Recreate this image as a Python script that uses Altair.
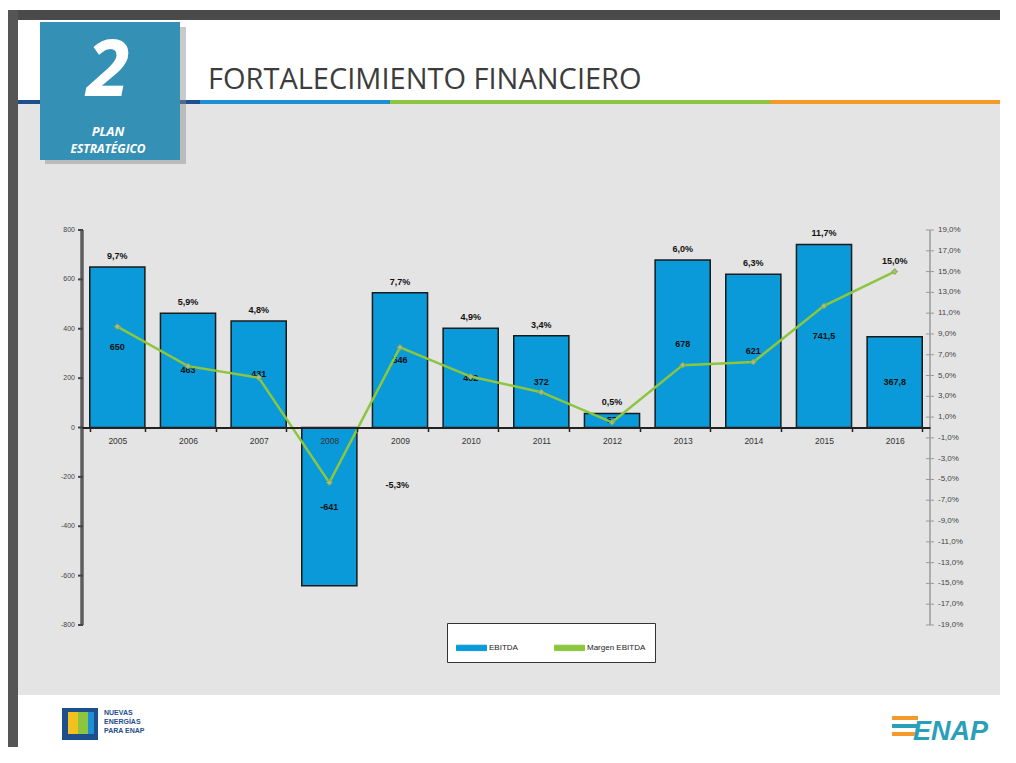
import altair as alt
import pandas as pd

# ---- data ----
years = ["2005", "2006", "2007", "2008", "2009", "2010", "2011", "2012", "2013", "2014", "2015", "2016"]
ebitda = [650, 463, 431, -641, 546, 402, 372, 57, 678, 621, 741.5, 367.8]
margen = [9.7, 5.9, 4.8, -5.3, 7.7, 4.9, 3.4, 0.5, 6.0, 6.3, 11.7, 15.0]
left_ticks = [-800, -600, -400, -200, 0, 200, 400, 600, 800]
right_ticks = [-19, -17, -15, -13, -11, -9, -7, -5, -3, -1, 1, 3, 5, 7, 9, 11, 13, 15, 17, 19]
series = ["EBITDA", "Margen EBITDA"]
title_text = "FORTALECIMIENTO FINANCIERO"

df = pd.DataFrame({"year": years, "e": ebitda, "m": margen})
lt = pd.DataFrame({"v": left_ticks})
rt = pd.DataFrame({"v": right_ticks})

W, H = 848, 395
BLUE = "#0a9ad9"
GREEN = "#8cc63e"
FONT = "Liberation Sans"
RATIO = "800 / 19"   # right-axis % range (±19) mapped onto left-axis range (±800)

xenc = alt.X("year:N", sort=years,
             scale=alt.Scale(paddingInner=0.22, paddingOuter=0.11),
             axis=alt.Axis(title=None, labelAngle=0, offset=-H / 2, domainColor="#222",
                           domainWidth=2, tickBand="extent", tickColor="#222", tickSize=4,
                           tickWidth=1.5, labelFontSize=8.5, labelColor="#333", labelPadding=5,
                           labelFont=FONT, zindex=2))
yscale = alt.Scale(domain=[-800, 800], nice=False, zero=False)
colscale = alt.Scale(domain=series, range=[BLUE, GREEN])

one = pd.DataFrame({"k": [0]})


def box(x1, x2, y1, y2, color, opacity=1.0):
    return alt.Chart(one).mark_rect(color=color, opacity=opacity).encode(
        x=alt.value(x1), x2=alt.value(x2), y=alt.value(y1), y2=alt.value(y2))


def label(text, x, y, size, color, font=FONT, weight="normal", style="normal", align="left", baseline="alphabetic"):
    return alt.Chart(one).mark_text(text=text, fontSize=size, color=color, font=font,
                                    fontWeight=weight, fontStyle=style, align=align,
                                    baseline=baseline).encode(x=alt.value(x), y=alt.value(y))


# plot origin is at page (82, 230); canvas background is the grey slide body
decor = [
    box(-74, 920, -222, -126, "white"),           # header
    box(-74, 920, 465, 520, "white"),             # footer
    box(-74, 920, -220, -210, "#4a4a4a"),         # top dark strip
    box(-74, -64, -220, 520, "#555555"),          # left dark strip
    box(-64, 118, -130, -126, "#1f4e8c"),
    box(118, 308, -130, -126, "#1c8fd6"),
    box(308, 688, -130, -126, GREEN),
    box(688, 920, -130, -126, "#f39a2b"),
    box(-37, 104, -203, -66, "#8a8a8a", 0.45),    # shadow of badge
    box(-42, 98, -208, -70, "#3490b4"),           # badge
    label("2", 26, -134, 78, "white", "Open Sans", "bold", "italic", "center"),
    label("PLAN", 26, -94, 13, "white", "Open Sans", "bold", "italic", "center"),
    label("ESTRATÉGICO", 26, -77, 12, "white", "Open Sans", "bold", "italic", "center"),
    label(title_text, 126, -141, 29, "#3c3c3c", "Open Sans"),
    # footer logos
    box(-20, 16, 478, 510, "#1f4e8c"),
    box(-14, -4, 482, 504, "#f2c11b"),
    box(-4, 6, 482, 504, "#8cc63e"),
    box(6, 12, 482, 504, "#1c8fd6"),
    label("NUEVAS", 22, 485, 7, "#1f4e8c", FONT, "bold"),
    label("ENERGÍAS", 22, 494, 7, "#1f4e8c", FONT, "bold"),
    label("PARA ENAP", 22, 503, 7, "#1f4e8c", FONT, "bold"),
    box(810, 836, 486, 490, "#f39a2b"),
    box(810, 836, 494, 498, "#2aa0b8"),
    box(810, 836, 502, 506, "#f39a2b"),
    label("ENAP", 906, 510, 27, "#2aa0b8", FONT, "bold", "italic", "right"),
]

Y = lambda f: alt.Y(f, scale=yscale, axis=None)

# ---- left axis (EBITDA) ----
l_dom = alt.Chart(lt).mark_rule(color="#5e5e5e", strokeWidth=3.5).encode(
    x=alt.value(0), y=Y("min(v):Q"), y2="max(v):Q")
l_tick = alt.Chart(lt).mark_rule(color="#444", strokeWidth=2).encode(
    x=alt.value(-4), x2=alt.value(1), y=Y("v:Q"))
l_lab = alt.Chart(lt).mark_text(align="right", baseline="middle", fontSize=7, font=FONT,
                                color="#444", dx=-7).encode(
    x=alt.value(0), y=Y("v:Q"), text="v:N")

# ---- right axis (Margen EBITDA, %) ----
rbase = alt.Chart(rt).transform_calculate(
    pv="datum.v * " + RATIO,
    txt="(datum.v < 0 ? '-' : '') + replace(format(abs(datum.v), '.1f'), '.', ',') + '%'")
r_dom = rbase.mark_rule(color="#9a9a9a", strokeWidth=1.5).encode(
    x=alt.value(W), y=Y("min(pv):Q"), y2="max(pv):Q")
r_tick = rbase.mark_rule(color="#9a9a9a", strokeWidth=1).encode(
    x=alt.value(W - 4), x2=alt.value(W + 4), y=Y("pv:Q"))
r_lab = rbase.mark_text(align="left", baseline="middle", fontSize=8, font=FONT,
                        color="#444", dx=8).encode(
    x=alt.value(W), y=Y("pv:Q"), text="txt:N")

base = alt.Chart(df).encode(x=xenc)

bars = base.mark_bar(stroke="#1a1a1a", strokeWidth=1.5).transform_calculate(
    serie="'EBITDA'").encode(
    y=Y("e:Q"),
    color=alt.Color("serie:N", scale=colscale,
                    legend=alt.Legend(title=None, orient="none", legendX=365, legendY=393,
                                      direction="horizontal", fillColor="white",
                                      strokeColor="#333", padding=9, labelFontSize=8,
                                      labelFont=FONT, labelColor="#222",
                                      symbolType="M-1,-0.18H1V0.18H-1Z", symbolSize=900,
                                      symbolStrokeWidth=1, columnPadding=34, labelOffset=2)),
)

val_labels = base.mark_text(fontSize=9, fontWeight="bold", font=FONT, color="#111",
                            baseline="middle").transform_calculate(
    mid="datum.e / 2",
    txt="replace(toString(datum.e), '.', ',')",
).encode(y=Y("mid:Q"), text="txt:N")

pct_pos = base.mark_text(fontSize=9, fontWeight="bold", font=FONT, color="#111",
                         baseline="bottom", dy=-6).transform_filter("datum.m >= 0").transform_calculate(
    top="max(datum.e, datum.m * " + RATIO + ")",
    txt="replace(format(datum.m, '.1f'), '.', ',') + '%'",
).encode(y=Y("top:Q"), text="txt:N")

pct_neg = base.mark_text(fontSize=9, fontWeight="bold", font=FONT, color="#111",
                         baseline="middle", dx=68, dy=2).transform_filter("datum.m < 0").transform_calculate(
    pos="datum.m * " + RATIO,
    txt="'-' + replace(format(abs(datum.m), '.1f'), '.', ',') + '%'",
).encode(y=Y("pos:Q"), text="txt:N")

line = base.mark_line(strokeWidth=2.5).transform_calculate(
    serie="'Margen EBITDA'", pm="datum.m * " + RATIO).encode(
    y=Y("pm:Q"), color=alt.Color("serie:N", scale=colscale))
points = base.mark_point(shape="diamond", filled=True, size=34, color="#a7b98c",
                         stroke="#7fae3a", strokeWidth=1, opacity=1).transform_calculate(
    pm="datum.m * " + RATIO).encode(y=Y("pm:Q"))

chart = alt.layer(*decor, bars, val_labels, pct_pos, pct_neg, line, points,
                  l_dom, l_tick, l_lab, r_dom, r_tick, r_lab).properties(
    width=W, height=H,
    autosize=alt.AutoSizeParams(type="none"),
    padding={"left": 74, "top": 222, "right": 70, "bottom": 122},
    background="#e4e4e4",
).configure_view(stroke=None)

chart.save("out.html", embed_options={"renderer": "svg", "actions": False})
